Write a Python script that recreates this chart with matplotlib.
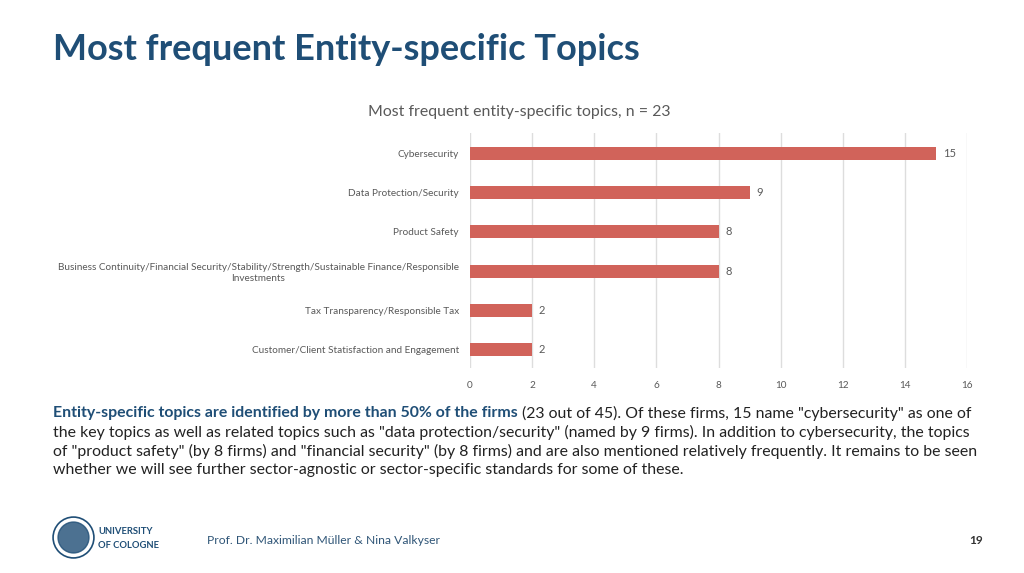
import matplotlib
matplotlib.use('Agg')
import matplotlib.pyplot as plt
from matplotlib.patches import Circle

plt.rcParams['font.family'] = ['Lato', 'DejaVu Sans']

topics = ['Cybersecurity',
          'Data Protection/Security',
          'Product Safety',
          'Business Continuity/Financial Security/Stability/Strength/Sustainable Finance/Responsible\nInvestments',
          'Tax Transparency/Responsible Tax',
          'Customer/Client Statisfaction and Engagement']
counts = [15, 9, 8, 8, 2, 2]
xticks = [0, 2, 4, 6, 8, 10, 12, 14, 16]

blue = '#1f4e76'
bar_col = '#d1635a'
grey = '#595959'

W, H = 1024, 573
fig = plt.figure(figsize=(W/100, H/100), dpi=100)

def fx(px):
    return px / W

def fy(py):
    return 1 - py / H

# slide title
fig.text(fx(53), fy(50), 'Most frequent Entity-specific Topics', fontsize=26,
         fontweight='bold', color=blue, va='center', ha='left')

# chart
ax = fig.add_axes([fx(470), fy(368), fx(967) - fx(470), fy(133) - fy(368)])
ypos = list(range(len(topics)))
ax.barh(ypos, counts, height=0.33, color=bar_col, zorder=3)
for y, v in zip(ypos, counts):
    ax.text(v + 0.22, y, str(v), va='center', ha='left', fontsize=8, color=grey)
ax.set_xlim(0, 16)
ax.set_ylim(5.46, -0.51)
ax.set_xticks(xticks)
ax.set_yticks(ypos)
ax.set_yticklabels(topics)
for lab in ax.get_yticklabels():
    lab.set_multialignment('center')
ax.tick_params(axis='both', length=0, labelsize=7.2, labelcolor=grey)
ax.tick_params(axis='x', pad=9)
ax.tick_params(axis='y', pad=8)
ax.grid(axis='x', color='#dddddd', linewidth=1, zorder=0)
for s in ax.spines.values():
    s.set_visible(False)

fig.text(fx(519), fy(112), 'Most frequent entity-specific topics, n = 23',
         fontsize=11.4, color=grey, ha='center', va='center')

# body text
fig.canvas.draw()
r = fig.canvas.get_renderer()
body_fs = 11.4
t1 = fig.text(fx(53), fy(413), 'Entity-specific topics are identified by more than 50% of the firms',
              fontsize=body_fs, fontweight='bold', color=blue, va='center', ha='left')
bb = t1.get_window_extent(renderer=r)
fig.text(bb.x1 / (W) + fx(4), fy(413),
         '(23 out of 45). Of these firms, 15 name "cybersecurity" as one of',
         fontsize=body_fs, color='#222222', va='center', ha='left')
lines = ['the key topics as well as related topics such as "data protection/security" (named by 9 firms). In addition to cybersecurity, the topics',
         'of "product safety" (by 8 firms) and "financial security" (by 8 firms) and are also mentioned relatively frequently. It remains to be seen',
         'whether we will see further sector-agnostic or sector-specific standards for some of these.']
for i, ln in enumerate(lines):
    fig.text(fx(53), fy(432 + 19 * i), ln, fontsize=body_fs, color='#222222',
             va='center', ha='left')

# footer
logo = fig.add_axes([fx(52), fy(559), fx(43), fy(516) - fy(559)])
logo.set_xlim(-1, 1)
logo.set_ylim(-1, 1)
logo.set_aspect('equal')
logo.axis('off')
logo.add_patch(Circle((0, 0), 0.95, fill=False, ec=blue, lw=1.2))
logo.add_patch(Circle((0, 0), 0.72, fc=blue, ec=blue, alpha=0.8))
fig.text(fx(98), fy(532), 'UNIVERSITY', fontsize=6.8, fontweight='bold', color=blue, va='center')
fig.text(fx(98), fy(546), 'OF COLOGNE', fontsize=6.8, fontweight='bold', color=blue, va='center')
fig.text(fx(207), fy(540), 'Prof. Dr. Maximilian Müller & Nina Valkyser', fontsize=8.7,
         color='#2f5577', va='center')
fig.text(fx(983), fy(540), '19', fontsize=8.5, fontweight='bold', color='#333333',
         va='center', ha='right')

fig.savefig('out.png', dpi=100)
